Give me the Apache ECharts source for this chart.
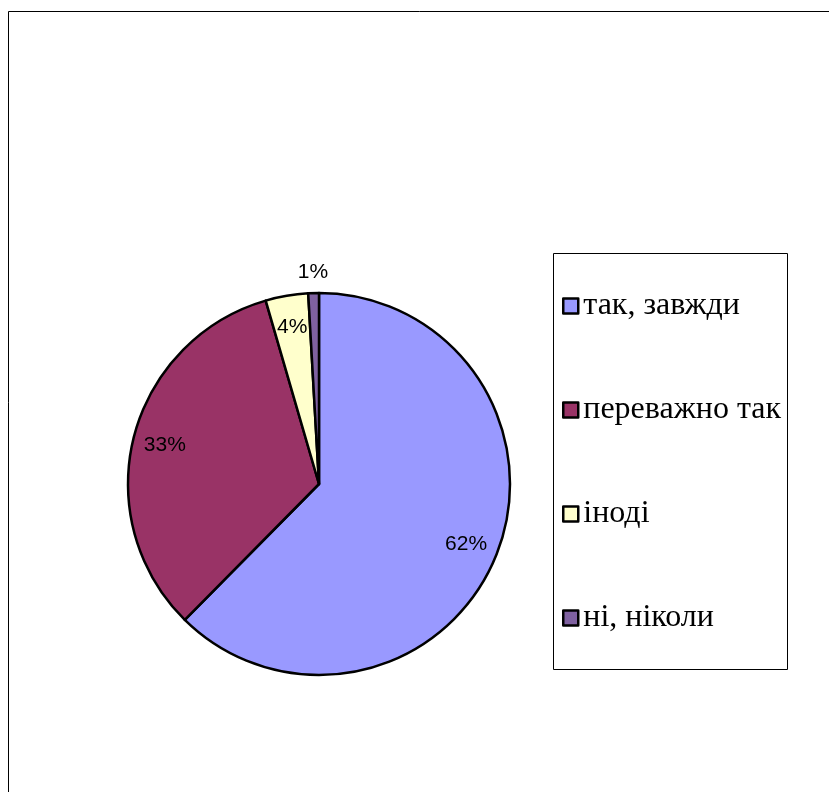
<!DOCTYPE html>
<html>
<head>
<meta charset="utf-8">
<script src="https://cdn.jsdelivr.net/npm/echarts@6/dist/echarts.min.js"></script>
<style>
html,body{margin:0;padding:0;background:#fff;}
#chart{width:829px;height:792px;}
</style>
</head>
<body>
<div id="chart"></div>
<script>
const categories = ['так, завжди', 'переважно так', 'іноді', 'ні, ніколи'];
const values = [62.4, 33.1, 3.6, 0.9];
const colors = ['#9999FF', '#993366', '#FFFFCC', '#7F61A0'];
const outsideLabel = [false, false, false, true];

const chart = echarts.init(document.getElementById('chart'));
const cx = 319, cy = 484, R = 191;
const fmt = p => Math.round(p.percent) + '%';
const labelStyle = {fontFamily: 'Liberation Sans', fontSize: 21, color: '#000'};

const mainData = categories.map((n, i) => ({name: n, value: values[i], itemStyle: {color: colors[i]}}));
const innerLabelData = categories.map((n, i) => ({name: n, value: values[i], label: {show: !outsideLabel[i]}}));
const outerLabelData = categories.map((n, i) => ({name: n, value: values[i], label: {show: outsideLabel[i]}}));

chart.setOption({
  animation: false,
  legend: {
    orient: 'vertical',
    left: 557, top: 285,
    padding: 5,
    data: categories,
    icon: 'rect',
    itemWidth: 15, itemHeight: 15,
    itemGap: 72,
    selectedMode: false,
    itemStyle: {borderColor: '#000', borderWidth: 2.5},
    textStyle: {fontFamily: 'Liberation Serif', fontSize: 32, color: '#000', lineHeight: 32, padding: [0,0,0,0]}
  },
  graphic: [
    {type: 'rect', shape: {x: 8.5, y: 11.5, width: 900, height: 900}, style: {fill: 'none', stroke: '#000', lineWidth: 1}},
    {type: 'rect', shape: {x: 553.5, y: 253.5, width: 234, height: 416}, style: {fill: 'none', stroke: '#000', lineWidth: 1}, z: -1}
  ],
  series: [
    {
      type: 'pie', center: [cx, cy], radius: [0, R], startAngle: 90, clockwise: true,
      label: {show: false}, labelLine: {show: false},
      itemStyle: {borderColor: '#000', borderWidth: 2.5},
      emphasis: {disabled: true}, silent: true,
      data: mainData
    },
    {
      type: 'pie', center: [cx, cy], radius: [118, 194], startAngle: 90, clockwise: true,
      itemStyle: {color: 'rgba(0,0,0,0)', borderWidth: 0},
      label: Object.assign({show: true, position: 'inside', formatter: fmt}, labelStyle),
      labelLine: {show: false}, emphasis: {disabled: true}, silent: true,
      data: innerLabelData
    },
    {
      type: 'pie', center: [cx, cy], radius: [R, 227], startAngle: 90, clockwise: true,
      itemStyle: {color: 'rgba(0,0,0,0)', borderWidth: 0},
      label: Object.assign({show: true, position: 'inside', formatter: fmt}, labelStyle),
      labelLine: {show: false}, emphasis: {disabled: true}, silent: true,
      data: outerLabelData
    }
  ]
});
</script>
</body>
</html>
